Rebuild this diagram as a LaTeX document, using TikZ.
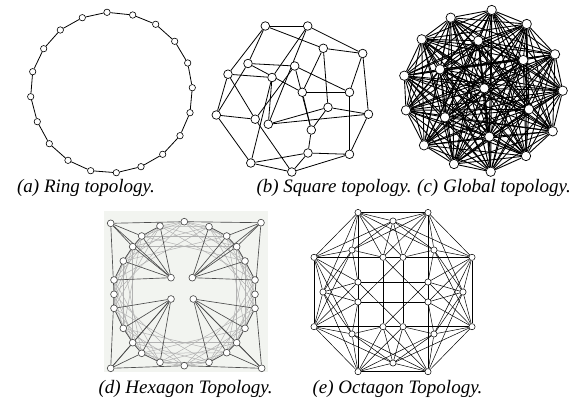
\documentclass[tikz,border=0pt]{standalone}
\usepackage{fontspec}
\setmainfont{Liberation Serif}
\pgfdeclarelayer{back}
\pgfdeclarelayer{bg}
\pgfsetlayers{back,bg,main}
\begin{document}
\begin{tikzpicture}[x=1pt,y=-1pt,
  an/.style={circle,draw,fill=white,inner sep=0pt,minimum size=6.4pt,line width=0.6pt},
  ae/.style={line width=0.8pt},
  bn/.style={circle,draw,fill=white,inner sep=0pt,minimum size=8.6pt,line width=0.7pt},
  be/.style={line width=0.8pt},
  cn/.style={circle,draw,fill=white,inner sep=0pt,minimum size=9.4pt,line width=0.7pt},
  ce/.style={line width=0.9pt},
  dn/.style={circle,draw=black!75,fill=white,inner sep=0pt,minimum size=6.8pt,line width=0.6pt},
  dk/.style={draw=black!70,line width=0.65pt},
  dl/.style={draw=black!30,line width=0.5pt},
  en/.style={circle,draw,fill=white,inner sep=0pt,minimum size=6.2pt,line width=0.5pt},
  ee/.style={line width=0.5pt},
  captxt/.style={font=\fontsize{19}{22}\selectfont\itshape,inner sep=0pt}]
\useasboundingbox (0,0) rectangle (576,404);

% ---------------- (a) ring ----------------
\foreach \x/\y [count=\i] in {107/12.3,132.7/15,155.7/24.3,174.7/41.3,187.7/63,192.3/87.7,190/112.7,180/135.7,162.7/154.3,141/166.7,116.3/172.7,90.7/170.7,68/160.3,49.3/143.7,37.3/121.7,30.7/96.7,32.7/71.7,43.7/48.7,60.3/30,82.3/17.7}
  \node[an] (a\i) at (\x,\y) {};
\begin{pgfonlayer}{bg}
\foreach \i in {1,...,20}{
  \pgfmathtruncatemacro\j{mod(\i,20)+1}
  \draw[ae] (a\i) -- (a\j);
}
\end{pgfonlayer}

% ---------------- (b) square ----------------
\foreach \n/\x/\y in {A/265.3/26,B/307.7/26,C/323.3/48.3,D/362.7/53.5,E/248/63.5,F/294.7/66,G/228/74.2,H/272/77.5,I/302.3/92.3,J/349.5/92.3,K/328/107.3,L/216.3/115,M/255.2/119.2,N/268.3/124.2,O/368.5/114.2,P/311.3/130,Q/308/153,R/349.5/154.3,S/250.8/163,T/291.8/172}
  \node[bn] (b\n) at (\x,\y) {};
\begin{pgfonlayer}{bg}
\foreach \u/\v in {A/B,A/C,A/G,A/E,B/D,C/D,C/K,D/J,D/O,I/J,J/R,K/O,K/N,O/R,L/M,L/S,L/G,L/E,S/T,S/Q,T/R,Q/R,E/F,G/H,C/I,F/J,B/H,B/N,G/M,M/T,H/S,I/P,P/Q,E/I,O/N,F/M,F/P,H/N,P/K,Q/T}
  \draw[be] (b\u) -- (b\v);
\end{pgfonlayer}

% ---------------- (c) global ----------------
\foreach \x/\y [count=\i] in {491.7/10,526.7/24,555/54.3,562.7/90.7,552.7/131.3,526/156,490.7/171.7,454/164,424/145.3,406/110.3,404.3/75.7,421.7/39.3,450.7/17.7,478.3/40.7,523.3/60,440/69.3,484.3/88.3,529/109.3,445/117.3,489.3/136.7}
  \node[cn] (c\i) at (\x,\y) {};
\begin{pgfonlayer}{bg}
\foreach \i in {1,...,19}{
  \pgfmathtruncatemacro\ii{\i+1}
  \foreach \j in {\ii,...,20}{\draw[ce] (c\i) -- (c\j);}
}
\end{pgfonlayer}

% ---------------- (d) hexagon ----------------
\begin{pgfonlayer}{back}
\fill[fill={rgb,255:red,242;green,244;blue,240}] (104,211) rectangle (268,372);
\end{pgfonlayer}
\foreach \x/\y [count=\i from 0] in {160/226,184.3/221.7,209/226.7,226.7/236,236.7/246.7,245/261,255/280,255/294.3,255/308.3,245/328.3,236.7/342.7,226.7/352.7,209/362.3,184.3/365.7,160/362.3,141.7/353.3,132.7/342.7,123.3/328.3,114/308.3,114/294.3,114/280,123.3/261,132.7/246.7,141.7/236}
  \node[dn] (r\i) at (\x,\y) {};
\node[dn] (kTL) at (110.7,223.3) {};
\node[dn] (kTR) at (261,222.7) {};
\node[dn] (kBR) at (261.7,368.3) {};
\node[dn] (kBL) at (110.7,368.3) {};
\node[dn] (nTL) at (171,277.7) {};
\node[dn] (nTR) at (192.3,277.7) {};
\node[dn] (nBR) at (193.3,299) {};
\node[dn] (nBL) at (171,299) {};
\begin{pgfonlayer}{bg}
\foreach \i in {0,...,23}{
  \foreach \k in {1,2,4,6}{
    \pgfmathtruncatemacro\j{mod(\i+\k,24)}
    \draw[dl] (r\i) -- (r\j);
  }
}
\foreach \u/\v in {nTL/kTL,nTL/r0,nTL/r23,nTL/r22,nTL/r21,nTL/r20,kTL/r1,kTL/r19,kTL/r23,kTL/r22,r0/r23,r23/r22,r22/r21,r21/r20,
  nTR/kTR,nTR/r2,nTR/r3,nTR/r4,nTR/r5,nTR/r6,kTR/r1,kTR/r7,kTR/r3,kTR/r4,r2/r3,r3/r4,r4/r5,r5/r6,
  nBR/kBR,nBR/r8,nBR/r9,nBR/r10,nBR/r11,nBR/r12,kBR/r7,kBR/r13,kBR/r11,kBR/r10,r8/r9,r9/r10,r10/r11,r11/r12,
  nBL/kBL,nBL/r14,nBL/r15,nBL/r16,nBL/r17,nBL/r18,kBL/r13,kBL/r19,kBL/r15,kBL/r16,r14/r15,r15/r16,r16/r17,r17/r18}
  \draw[dk] (\u) -- (\v);
\end{pgfonlayer}

% ---------------- (e) octagon ----------------
\foreach \n/\x/\y in {O1/358/212.5,O2/428/212.5,O3/472/257.3,O4/472/326.7,O5/428/371.7,O6/358/371.7,O7/314/326.7,O8/314/257.3,
  MT/393/221,MR/463/292,MB/393/363,ML/323/292,
  DTL/352/250,DTR/434/250,DBR/434/334,DBL/352/334,
  IT1/383/257.3,IT2/403/257.3,IR1/428/282,IR2/428/302,IB2/403/326.7,IB1/383/326.7,IL2/358/302,IL1/358/282}
  \node[en] (e\n) at (\x,\y) {};
\begin{pgfonlayer}{bg}
\foreach \u/\v in {O1/O2,O2/O3,O3/O4,O4/O5,O5/O6,O6/O7,O7/O8,O8/O1,
  O1/IL1,IL1/IL2,IL2/O6,O2/IR1,IR1/IR2,IR2/O5,O8/IT1,IT1/IT2,IT2/O3,O7/IB1,IB1/IB2,IB2/O4,
  O1/IT1,O1/IT2,O2/IT1,O2/IT2,O3/IR1,O3/IR2,O4/IR1,O4/IR2,O5/IB1,O5/IB2,O6/IB1,O6/IB2,O7/IL1,O7/IL2,O8/IL1,O8/IL2,
  O1/MT,O2/MT,O3/MR,O4/MR,O5/MB,O6/MB,O7/ML,O8/ML,
  MT/O8,MT/O3,MR/O2,MR/O5,MB/O4,MB/O7,ML/O6,ML/O1,
  O1/DTL,O1/DTR,O2/DTR,O2/DTL,O3/DTR,O3/DBR,O4/DBR,O4/DTR,O5/DBR,O5/DBL,O6/DBL,O6/DBR,O7/DBL,O7/DTL,O8/DTL,O8/DBL,
  IL1/IR1,IL2/IR2,IT1/IB1,IT2/IB2,
  IT1/IR2,IT2/IL2,IL1/IB2,IR1/IB1,
  MT/DTL,MT/DTR,MR/DTR,MR/DBR,MB/DBR,MB/DBL,ML/DBL,ML/DTL,
  MT/IT1,MT/IT2,MR/IR1,MR/IR2,MB/IB1,MB/IB2,ML/IL1,ML/IL2,
  DTL/IT1,DTL/IL1,DTR/IT2,DTR/IR1,DBR/IR2,DBR/IB2,DBL/IB1,DBL/IL2}
  \draw[ee] (e\u) -- (e\v);
\end{pgfonlayer}

% ---------------- captions ----------------
\node[captxt] (capa) at (86,188) {(a) Ring topology.};
\node[captxt] (capb) at (334,188) {(b) Square topology.};
\node[captxt] (capc) at (494,188) {(c) Global topology.};
\node[captxt] (capd) at (185.5,389) {(d) Hexagon Topology.};
\node[captxt] (cape) at (397.5,389) {(e) Octagon Topology.};
\end{tikzpicture}
\end{document}
